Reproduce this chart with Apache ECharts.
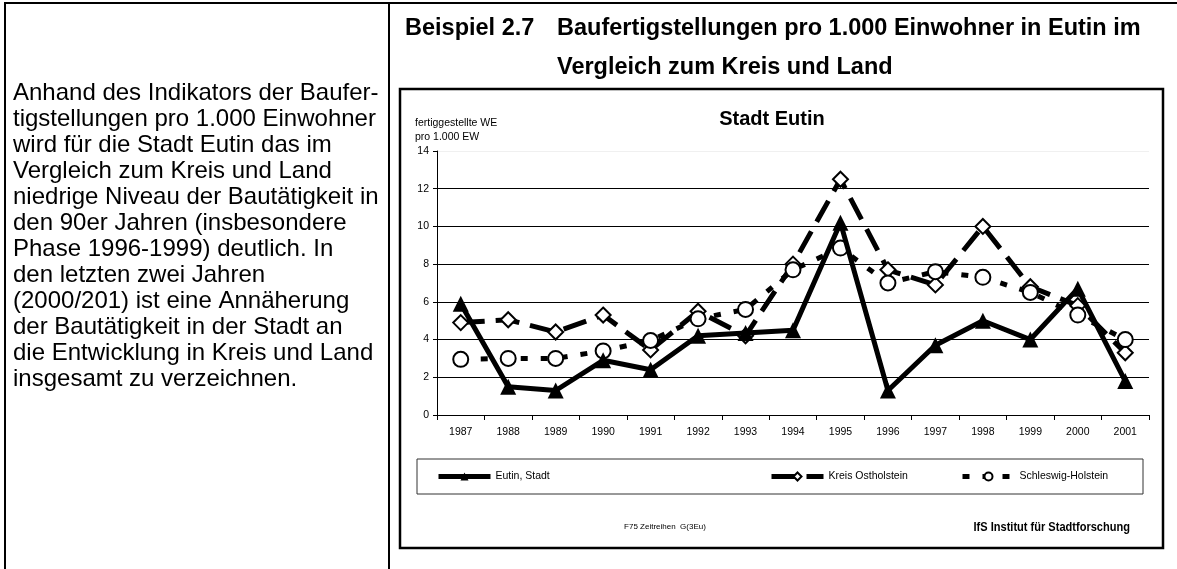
<!DOCTYPE html>
<html>
<head>
<meta charset="utf-8">
<script src="https://cdn.jsdelivr.net/npm/echarts@6/dist/echarts.min.js"></script>
<style>
  html, body { margin: 0; padding: 0; background: #fff; }
  #chartContainer { width: 1177px; height: 569px; }
</style>
</head>
<body>
<div id="chartContainer"></div>
<script>
// Jahre (x-Achse)
const years = ["1987", "1988", "1989", "1990", "1991", "1992", "1993", "1994",
  "1995", "1996", "1997", "1998", "1999", "2000", "2001"];

// fertiggestellte WE pro 1.000 EW
const eutinStadt = [5.9, 1.5, 1.3, 2.9, 2.4, 4.2, 4.35, 4.5, 10.2, 1.3, 3.7, 5.0, 4.0, 6.7, 1.8];
const kreisOstholstein = [4.9, 5.05, 4.4, 5.3, 3.45, 5.5, 4.2, 8.0, 12.5, 7.7, 6.9, 10.0, 6.8, 5.8, 3.3];
const schleswigHolstein = [2.95, 3.0, 3.0, 3.4, 3.95, 5.1, 5.6, 7.7, 8.85, 7.0, 7.6, 7.3, 6.5, 5.3, 4.0];

const seriesNames = ["Eutin, Stadt", "Kreis Ostholstein", "Schleswig-Holstein"];

// Text links in der Tabelle
const sideText = [
  "Anhand des Indikators der Baufer-",
  "tigstellungen pro 1.000 Einwohner",
  "wird für die Stadt Eutin das im",
  "Vergleich zum Kreis und Land",
  "niedrige Niveau der Bautätigkeit in",
  "den 90er Jahren (insbesondere",
  "Phase 1996-1999) deutlich. In",
  "den letzten zwei Jahren",
  "(2000/201) ist eine Annäherung",
  "der Bautätigkeit in der Stadt an",
  "die Entwicklung in Kreis und Land",
  "insgesamt zu verzeichnen."
];

const FONT = "'Liberation Sans', Arial, sans-serif";

var myChart = echarts.init(document.getElementById("chartContainer"), null, { renderer: "canvas" });

// Legende: je Reihe eine eigene, damit die Abstände wie im Original sind
function makeLegend(name, left) {
  return {
    data: [name],
    left: left,
    top: 471,
    padding: 0,
    itemWidth: 52,
    itemHeight: 10,
    selectedMode: false,
    lineStyle: { width: 5 },
    textStyle: { fontFamily: FONT, fontSize: 10.5, color: "#000" }
  };
}

var option = {
  animation: false,
  backgroundColor: "#fff",
  textStyle: { fontFamily: FONT },
  grid: { left: 437, right: 28, top: 151, bottom: 154 },
  legend: [
    makeLegend(seriesNames[0], 436),
    makeLegend(seriesNames[1], 769),
    makeLegend(seriesNames[2], 960)
  ],
  xAxis: {
    type: "category",
    data: years,
    boundaryGap: true,
    axisLine: { lineStyle: { color: "#000", width: 1 } },
    axisTick: { show: true, length: 5, lineStyle: { color: "#000" } },
    axisLabel: { color: "#000", fontSize: 10.5, fontFamily: FONT, margin: 12 },
    splitLine: { show: false }
  },
  yAxis: {
    type: "value",
    min: 0,
    max: 14,
    interval: 2,
    axisLine: { show: true, lineStyle: { color: "#000", width: 1 } },
    axisTick: { show: true, length: 4, lineStyle: { color: "#000" } },
    axisLabel: { color: "#000", fontSize: 10.5, fontFamily: FONT, margin: 8 },
    splitLine: {
      show: true,
      lineStyle: {
        color: ["#000", "#000", "#000", "#000", "#000", "#000", "#000", "#f0f0f0"],
        width: 1
      }
    }
  },
  series: [
    {
      name: seriesNames[1],
      type: "line",
      data: kreisOstholstein,
      z: 1,
      symbol: "diamond",
      symbolSize: 15,
      itemStyle: { color: "#fff", borderColor: "#000", borderWidth: 2 },
      lineStyle: { color: "#000", width: 5, type: [24, 11], cap: "butt" }
    },
    {
      name: seriesNames[2],
      type: "line",
      data: schleswigHolstein,
      z: 2,
      symbol: "circle",
      symbolSize: 15,
      itemStyle: { color: "#fff", borderColor: "#000", borderWidth: 2 },
      lineStyle: { color: "#000", width: 5, type: [7, 13], cap: "butt" }
    },
    {
      name: seriesNames[0],
      type: "line",
      data: eutinStadt,
      z: 3,
      symbol: "triangle",
      symbolSize: 16,
      itemStyle: { color: "#000", borderColor: "#000", borderWidth: 0 },
      lineStyle: { color: "#000", width: 5, type: "solid" }
    }
  ],
  graphic: [
    // Tabellenrahmen
    { type: "line", shape: { x1: 4, y1: 3, x2: 1177, y2: 3 }, style: { stroke: "#000", lineWidth: 2 } },
    { type: "line", shape: { x1: 5, y1: 3, x2: 5, y2: 569 }, style: { stroke: "#000", lineWidth: 2 } },
    { type: "line", shape: { x1: 389, y1: 3, x2: 389, y2: 569 }, style: { stroke: "#000", lineWidth: 2 } },
    // Fließtext links
    {
      type: "text",
      x: 13,
      y: 80,
      style: {
        text: sideText.join("\n"),
        font: "24px " + FONT,
        lineHeight: 26,
        verticalAlign: "top",
        fill: "#000"
      }
    },
    // Überschrift
    {
      type: "text",
      left: 405,
      top: 17,
      style: { text: "Beispiel 2.7", font: "bold 23.5px " + FONT, fill: "#000" }
    },
    {
      type: "text",
      left: 557,
      top: 17,
      style: { text: "Baufertigstellungen pro 1.000 Einwohner in Eutin im", font: "bold 23.5px " + FONT, fill: "#000" }
    },
    {
      type: "text",
      left: 557,
      top: 56,
      style: { text: "Vergleich zum Kreis und Land", font: "bold 23.5px " + FONT, fill: "#000" }
    },
    // Diagrammrahmen
    {
      type: "rect",
      shape: { x: 400, y: 89, width: 763, height: 459 },
      style: { fill: "none", stroke: "#000", lineWidth: 2.5 },
      z: -1
    },
    // Diagrammtitel
    {
      type: "text",
      x: 772,
      y: 119,
      style: { text: "Stadt Eutin", font: "bold 20px " + FONT, fill: "#000", align: "center", verticalAlign: "middle" }
    },
    // Achsentitel
    {
      type: "text",
      x: 415,
      y: 123,
      style: { text: "fertiggestellte WE", font: "10.5px " + FONT, fill: "#000", verticalAlign: "middle" }
    },
    {
      type: "text",
      x: 415,
      y: 137,
      style: { text: "pro 1.000 EW", font: "10.5px " + FONT, fill: "#000", verticalAlign: "middle" }
    },
    // Legendenrahmen
    {
      type: "rect",
      shape: { x: 417, y: 459, width: 726, height: 35 },
      style: { fill: "none", stroke: "#333", lineWidth: 1 },
      z: -1
    },
    // Fußzeile
    {
      type: "text",
      x: 665,
      y: 527,
      style: { text: "F75 Zeitreihen  G(3Eu)", font: "8px " + FONT, fill: "#000", align: "center", verticalAlign: "middle" }
    },
    {
      type: "text",
      x: 1130,
      y: 527,
      scaleX: 0.85,
      style: { text: "IfS Institut für Stadtforschung", font: "bold 13px " + FONT, fill: "#000", align: "right", verticalAlign: "middle" }
    }
  ]
};

myChart.setOption(option);
</script>
</body>
</html>
